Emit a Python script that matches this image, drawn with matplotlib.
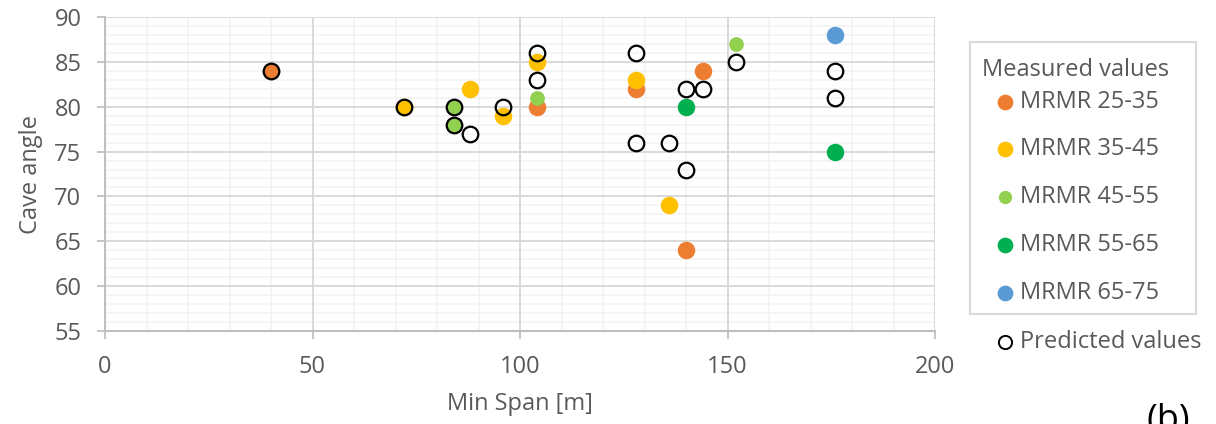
import matplotlib
matplotlib.use("Agg")
import matplotlib.pyplot as plt
from matplotlib.patches import Rectangle
from matplotlib.ticker import MultipleLocator

plt.rcParams['font.family'] = ['Open Sans', 'DejaVu Sans']

# ---- data ----
series_names = ["MRMR 25-35", "MRMR 35-45", "MRMR 45-55", "MRMR 55-65", "MRMR 65-75"]
series_colors = ["#ED7D31", "#FFC000", "#92D050", "#00B050", "#5B9BD5"]

mrmr_25_35_x = [40, 104, 128, 144, 140]
mrmr_25_35_y = [84, 80, 82, 84, 64]
mrmr_35_45_x = [72, 88, 96, 104, 128, 136]
mrmr_35_45_y = [80, 82, 79, 85, 83, 69]
mrmr_45_55_x = [84, 84, 104, 152]
mrmr_45_55_y = [80, 78, 81, 87]
mrmr_55_65_x = [140, 176]
mrmr_55_65_y = [80, 75]
mrmr_65_75_x = [176]
mrmr_65_75_y = [88]

predicted_x = [40, 72, 84, 84, 88, 96, 104, 104, 128, 128, 136, 140, 144, 140, 152, 176, 176]
predicted_y = [84, 80, 80, 78, 77, 80, 86, 83, 86, 76, 76, 82, 82, 73, 85, 84, 81]

measured_x = [mrmr_25_35_x, mrmr_35_45_x, mrmr_45_55_x, mrmr_55_65_x, mrmr_65_75_x]
measured_y = [mrmr_25_35_y, mrmr_35_45_y, mrmr_45_55_y, mrmr_55_65_y, mrmr_65_75_y]
marker_sizes = [12.6, 12.6, 10.6, 12.6, 12.6]

W, H = 1216, 424
FS = 17
fig = plt.figure(figsize=(W / 100, H / 100), dpi=100)
ax = fig.add_axes([105 / W, 1 - 331 / H, 830 / W, 314 / H])

txt = "#595959"
major_c = "#D9D9D9"
minor_c = "#F2F2F2"

for xs, ys, c, ms in zip(measured_x, measured_y, series_colors, marker_sizes):
    ax.plot(xs, ys, 'o', color=c, markersize=ms, markeredgewidth=0, zorder=3, clip_on=False)
ax.plot(predicted_x, predicted_y, 'o', markerfacecolor='none', markeredgecolor='black',
        markersize=11.2, markeredgewidth=1.6, zorder=4, clip_on=False)

ax.set_xlim(0, 200)
ax.set_ylim(55, 90)
ax.xaxis.set_major_locator(MultipleLocator(50))
ax.xaxis.set_minor_locator(MultipleLocator(10))
ax.yaxis.set_major_locator(MultipleLocator(5))
ax.yaxis.set_minor_locator(MultipleLocator(1))
ax.set_axisbelow(True)
ax.grid(which='minor', color=minor_c, linewidth=1.1)
# major gridlines drawn above the minor ones
xt = [v for v in ax.get_xticks() if 0 < v <= 200]
yt = [v for v in ax.get_yticks() if 55 < v <= 90]
ax.vlines(xt, 55, 90, colors=major_c, linewidth=1.4, zorder=1)
ax.hlines(yt, 0, 200, colors=major_c, linewidth=1.4, zorder=1)
for s in ['top', 'right']:
    ax.spines[s].set_visible(False)
for s in ['left', 'bottom']:
    ax.spines[s].set_color("#BFBFBF")
    ax.spines[s].set_linewidth(1.5)
    ax.spines[s].set_zorder(2)
ax.tick_params(which='major', length=6, width=1.3, color="#BFBFBF", labelsize=FS,
               labelcolor=txt, pad=11)
ax.tick_params(which='minor', length=0)

ax.set_xlabel("Min Span [m]", fontsize=FS, color=txt, labelpad=10)
ax.set_ylabel("Cave angle", fontsize=FS, color=txt, labelpad=8)

# ---- legend (drawn in pixel coordinates on an overlay) ----
ov = fig.add_axes([0, 0, 1, 1], zorder=5)
ov.set_xlim(0, W)
ov.set_ylim(H, 0)
ov.axis('off')
ov.patch.set_alpha(0)
ov.add_patch(Rectangle((970, 42), 226, 272, fill=False, edgecolor=major_c, linewidth=1.5))
ov.text(982, 70, "Measured values", fontsize=FS, color=txt, va='center', ha='left')
entry_y = [102, 149, 197, 245, 293]
for yy, name, c, ms in zip(entry_y, series_names, series_colors, marker_sizes):
    ov.plot([1005], [yy], 'o', color=c, markersize=ms * 0.9, markeredgewidth=0)
    ov.text(1020, yy, name, fontsize=FS, color=txt, va='center', ha='left')
ov.plot([1005], [342], 'o', markerfacecolor='none', markeredgecolor='black',
        markersize=9.5, markeredgewidth=1.4)
ov.text(1020, 342, "Predicted values", fontsize=FS, color=txt, va='center', ha='left')
ov.text(1146, 403, "(b)", fontsize=26, color='black', va='top', ha='left')

fig.savefig("out.png", dpi=100)
